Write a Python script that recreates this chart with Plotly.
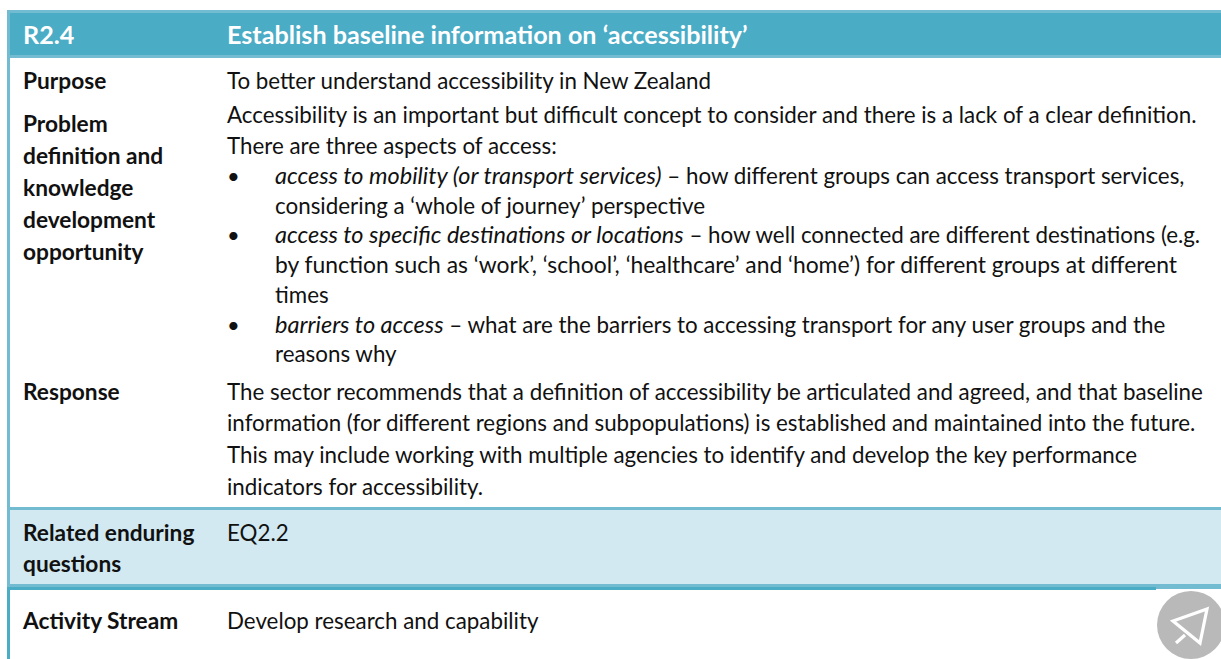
import plotly.graph_objects as go

W, H = 1221, 659
FONT = "Lato"
DARK = "#4BACC6"
LIGHT = "#72BBD0"
PALE = "#D2E9F1"
INK = "#111111"

header_labels = ["R2.4", "Establish baseline information on ‘accessibility’"]
header_x = [23, 227]
header_y = [37.5, 37.5]

left_labels = ["Purpose", "Problem", "definition and", "knowledge", "development", "opportunity",
               "Response", "Related enduring", "questions", "Activity Stream"]
left_y = [83.5, 126.5, 158.5, 190.5, 222.5, 254.5, 394.5, 535.5, 566.5, 623.5]

body_labels = [
    "To better understand accessibility in New Zealand",
    "Accessibility is an important but difficult concept to consider and there is a lack of a clear definition.",
    "There are three aspects of access:",
    "The sector recommends that a definition of accessibility be articulated and agreed, and that baseline",
    "information (for different regions and subpopulations) is established and maintained into the future.",
    "This may include working with multiple agencies to identify and develop the key performance",
    "indicators for accessibility.",
    "EQ2.2",
    "Develop research and capability",
]
body_y = [83.5, 117.5, 148.5, 394.5, 425.5, 457.5, 489.5, 535.5, 623.5]

ITALIC = '<span style="font-size:23.5px"><i>{}</i></span>'
bullet_labels = [
    ITALIC.format("access to mobility (or transport services)") + " – how different groups can access transport services,",
    "considering a ‘whole of journey’ perspective",
    ITALIC.format("access to specific destinations or locations") + " – how well connected are different destinations (e.g.",
    "by function such as ‘work’, ‘school’, ‘healthcare’ and ‘home’) for different groups at different",
    "times",
    ITALIC.format("barriers to access") + " – what are the barriers to accessing transport for any user groups and the",
    "reasons why",
]
bullet_y = [178.5, 208.5, 237.5, 267.5, 297.5, 327.5, 356.5]
bullet_sizes = [22.35, 22.4, 22.35, 22.85, 22.35, 22.35, 22.35]
bullet_mark_y = [178.5, 237.5, 327.5]

def rect(x0, y0, x1, y1, color):
    return dict(type="rect", xref="x", yref="y", x0=x0, y0=y0, x1=x1, y1=y1,
                fillcolor=color, line_width=0, layer="below")

shapes = [
    rect(7, 10, W, 58, LIGHT),
    rect(10, 13, W, 55, DARK),
    rect(7, 58, 10, 587, LIGHT),
    rect(7, 507, W, 510, LIGHT),
    rect(10, 510, W, 584, PALE),
    rect(7, 584, W, 587, LIGHT),
    rect(7, 587, 1156, 590, DARK),
    rect(1156, 587, W, 589, LIGHT),
    rect(7, 590, 10, H, DARK),
    dict(type="circle", xref="x", yref="y", x0=1157, y0=591, x1=1225, y1=659,
         fillcolor="#B9B9B9", line_width=0, layer="above"),
    dict(type="path", xref="x", yref="y", layer="above",
         path="M1207,609 L1173,621 L1200,643 Z M1185,635 L1176,643",
         line=dict(color="white", width=3.2)),
]

fig = go.Figure()

def add_text(xs, ys, labels, size, color, bold=False):
    fig.add_trace(go.Scatter(
        x=xs, y=ys, mode="text", hoverinfo="skip", showlegend=False,
        text=[f"<b>{t}</b>" if bold else t for t in labels],
        textposition="middle right",
        textfont=dict(family=FONT, size=size, color=color),
    ))

add_text(header_x, header_y, header_labels, 25.15, "white", True)
add_text([23] * len(left_y), left_y, left_labels, 22.7, INK, True)
add_text([227] * len(body_y), body_y, body_labels, 22.35, INK)
add_text([275] * len(bullet_y), bullet_y, bullet_labels, bullet_sizes, INK)
add_text([227] * len(bullet_mark_y), bullet_mark_y, ["•"] * len(bullet_mark_y), 22, INK)

fig.update_layout(
    width=W, height=H, autosize=False,
    margin=dict(l=0, r=0, t=0, b=0),
    paper_bgcolor="white", plot_bgcolor="white",
    xaxis=dict(range=[0, W], visible=False, fixedrange=True),
    yaxis=dict(range=[H, 0], visible=False, fixedrange=True),
    shapes=shapes,
)
fig.write_html("out.html", config=dict(displayModeBar=False),
               post_script="document.body.style.margin='0';document.body.style.overflow='hidden';")
